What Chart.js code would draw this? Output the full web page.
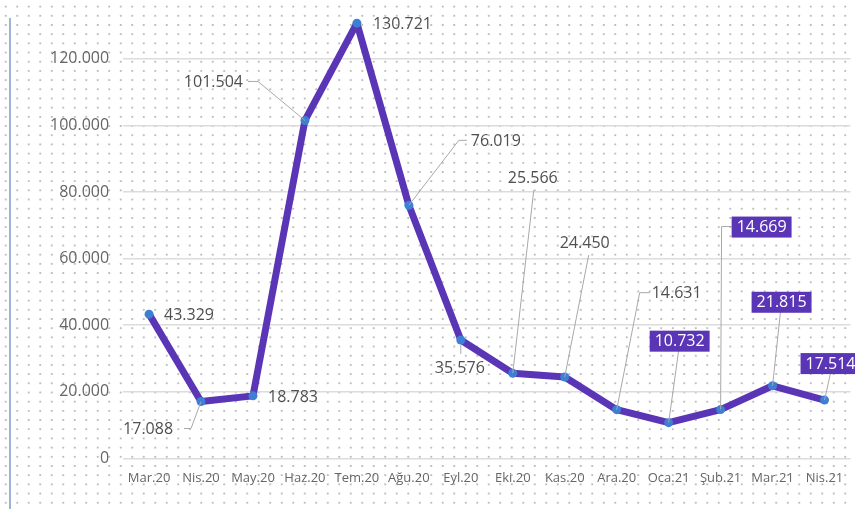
<!DOCTYPE html>
<html>
<head>
<meta charset="utf-8">
<script src="https://cdn.jsdelivr.net/npm/chart.js@4"></script>
<style>
  html, body { margin: 0; padding: 0; }
  body {
    width: 855px; height: 509px; overflow: hidden; position: relative;
    background-color: #fff;
    background-image: radial-gradient(circle, #bdbdbd 1px, transparent 1.4px);
    background-size: 11.5px 9.2px;
    background-position: 0px 2px;
  }
  .edge { position: absolute; left: 9px; top: 18px; width: 2px; height: 491px; background: #9db3d8; }
  #chart-wrap { position: absolute; left: 0; top: -18px; width: 855px; height: 527px; }
</style>
</head>
<body>
<div class="edge"></div>
<div id="chart-wrap"><canvas id="chart-monthly"></canvas></div>
<script>
// Monthly values
const months = ['Mar.20','Nis.20','May.20','Haz.20','Tem.20','Ağu.20','Eyl.20','Eki.20','Kas.20','Ara.20','Oca.21','Şub.21','Mar.21','Nis.21'];
const values = [43329, 17088, 18783, 101504, 130721, 76019, 35576, 25566, 24450, 14631, 10732, 14669, 21815, 17514];
const yTicks = [0, 20000, 40000, 60000, 80000, 100000, 120000];

const purple = '#5a35b5';
const dotBlue = '#3d7fd4';
const labelGrey = '#505050';

// where each value label sits relative to its point (text offset, leader path, boxed or plain)
const labelLayout = [
    { dx: 15,  dy: 0,    align: 'left' },
    { dx: -28, dy: 27,   align: 'right',  leader: [[0,0],[-10,27],[-17,27]] },
    { dx: 15,  dy: 1,    align: 'left' },
    { dx: -62, dy: -39,  align: 'right',  leader: [[0,0],[-47,-39],[-57,-39]] },
    { dx: 16,  dy: 0,    align: 'left' },
    { dx: 62,  dy: -65,  align: 'left',   leader: [[0,0],[50,-65],[58,-65]] },
    { dx: -1,  dy: 27,   align: 'center', leader: [[0,5],[0,14]] },
    { dx: 20,  dy: -196, align: 'center', leader: [[0,0],[21,-183]] },
    { dx: 20,  dy: -135, align: 'center', leader: [[0,0],[24,-122]] },
    { dx: 35,  dy: -117, align: 'left',   leader: [[0,0],[23,-117],[33,-117]] },
    { dx: 11,  dy: -82,  align: 'center', boxed: true, leader: [[0,0],[10,-72]] },
    { dx: 41,  dy: -183, align: 'center', boxed: true, leader: [[0,0],[1,-183],[11,-183]] },
    { dx: 9,   dy: -84,  align: 'center', boxed: true, leader: [[0,0],[8,-75]] },
    { dx: 6,   dy: -37,  align: 'center', boxed: true, leader: [[0,0],[6,-27]] }
];

function fmt(v) {
    return String(v).replace(/\B(?=(\d{3})+(?!\d))/g, '.');
}

const valueLabels = {
    id: 'valueLabels',
    afterDatasetsDraw(chart) {
        const ctx = chart.ctx;
        const meta = chart.getDatasetMeta(0);
        ctx.save();
        ctx.font = '16px "Open Sans", "Noto Sans", sans-serif';
        ctx.textBaseline = 'middle';
        meta.data.forEach((pt, i) => {
            const lay = labelLayout[i];
            if (!lay) return;
            const x0 = pt.x, y0 = pt.y;
            if (lay.leader) {
                ctx.strokeStyle = '#a8a8a8';
                ctx.lineWidth = 1;
                ctx.beginPath();
                lay.leader.forEach((p, k) => {
                    if (k === 0) ctx.moveTo(x0 + p[0], y0 + p[1]);
                    else ctx.lineTo(x0 + p[0], y0 + p[1]);
                });
                ctx.stroke();
            }
            const text = fmt(values[i]);
            const tx = x0 + lay.dx, ty = y0 + lay.dy;
            const w = ctx.measureText(text).width;
            if (lay.boxed) {
                ctx.fillStyle = purple;
                ctx.fillRect(tx - w / 2 - 5, ty - 10, w + 10, 21);
                ctx.fillStyle = '#fff';
            } else {
                ctx.fillStyle = labelGrey;
            }
            ctx.textAlign = lay.align;
            ctx.fillText(text, tx, ty + 1);
        });
        ctx.restore();
    }
};

new Chart(document.getElementById('chart-monthly'), {
    type: 'line',
    data: {
        labels: months,
        datasets: [{
            data: values,
            borderColor: purple,
            borderWidth: 7,
            borderJoinStyle: 'round',
            borderCapStyle: 'round',
            tension: 0,
            pointRadius: 4.5,
            pointBackgroundColor: dotBlue,
            pointBorderColor: dotBlue,
            pointBorderWidth: 0
        }]
    },
    options: {
        responsive: true,
        maintainAspectRatio: false,
        animation: false,
        layout: { padding: { top: 8, right: 0, bottom: 19, left: 36 } },
        plugins: { legend: { display: false }, tooltip: { enabled: false } },
        scales: {
            x: {
                offset: true,
                grid: { display: false },
                border: { display: false },
                ticks: { color: '#666', font: { family: 'Open Sans', size: 13 }, padding: 4, maxRotation: 0, autoSkip: false }
            },
            y: {
                min: 0,
                max: 136000,
                afterBuildTicks: (scale) => { scale.ticks = yTicks.map(v => ({ value: v })); },
                grid: { color: '#dcdcdc', lineWidth: 1.5, drawTicks: false },
                border: { display: false },
                ticks: { color: '#666', font: { family: 'Open Sans', size: 16 }, padding: 14, callback: v => fmt(v) }
            }
        }
    },
    plugins: [valueLabels]
});
</script>
</body>
</html>
